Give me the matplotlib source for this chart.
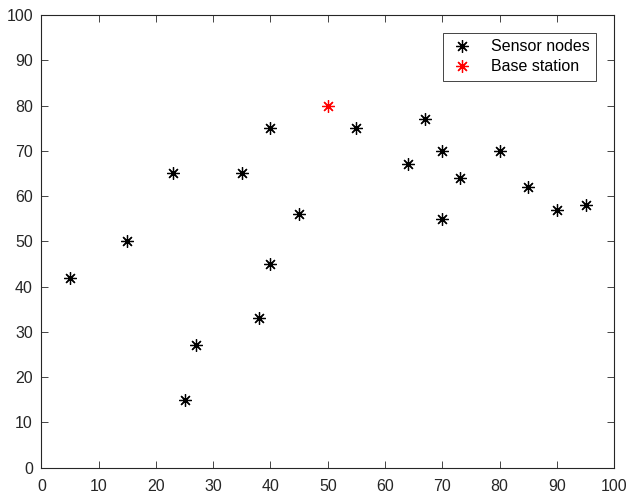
import numpy as np
import matplotlib.pyplot as plt

# sensor node coordinates
node_x = [5, 15, 23, 25, 27, 35, 38, 40, 40, 45, 55, 64, 67, 70, 70, 73, 80, 85, 90, 95]
node_y = [42, 50, 65, 15, 27, 65, 33, 75, 45, 56, 75, 67, 77, 70, 55, 64, 70, 62, 57, 58]
# base station
bs_x = [50]
bs_y = [80]

plt.rcParams['font.family'] = ['Liberation Sans', 'DejaVu Sans']
grey = '#262626'

fig = plt.figure(figsize=(6.3, 4.99), dpi=100)
ax = fig.add_axes([0.0656, 0.0627, 0.9094, 0.9073])

star = (8, 2, 0)
ax.plot(node_x, node_y, linestyle='none', marker=star, color='k',
        markersize=9, markeredgewidth=0.9, label='Sensor nodes')
ax.plot(bs_x, bs_y, linestyle='none', marker=star, color='r',
        markersize=9, markeredgewidth=0.9, label='Base station')

ax.set_xlim(0, 100)
ax.set_ylim(0, 100)
ax.set_xticks(np.arange(0, 101, 10))
ax.set_yticks(np.arange(0, 101, 10))
ax.tick_params(direction='in', top=True, right=True, length=5, width=0.6,
               colors=grey, labelsize=11.5)
ax.tick_params(axis='x', pad=8)
ax.tick_params(axis='y', pad=6)
for s in ax.spines.values():
    s.set_color(grey)
    s.set_linewidth(0.8)

leg = ax.legend(loc='upper right', bbox_to_anchor=(0.969, 0.96), borderaxespad=0,
                fontsize=11.5, fancybox=False, edgecolor=grey, framealpha=1,
                handlelength=1.5, handletextpad=1.1, borderpad=0.4, labelspacing=0.3)
leg.get_frame().set_linewidth(0.6)

fig.savefig('out.png', dpi=100)
